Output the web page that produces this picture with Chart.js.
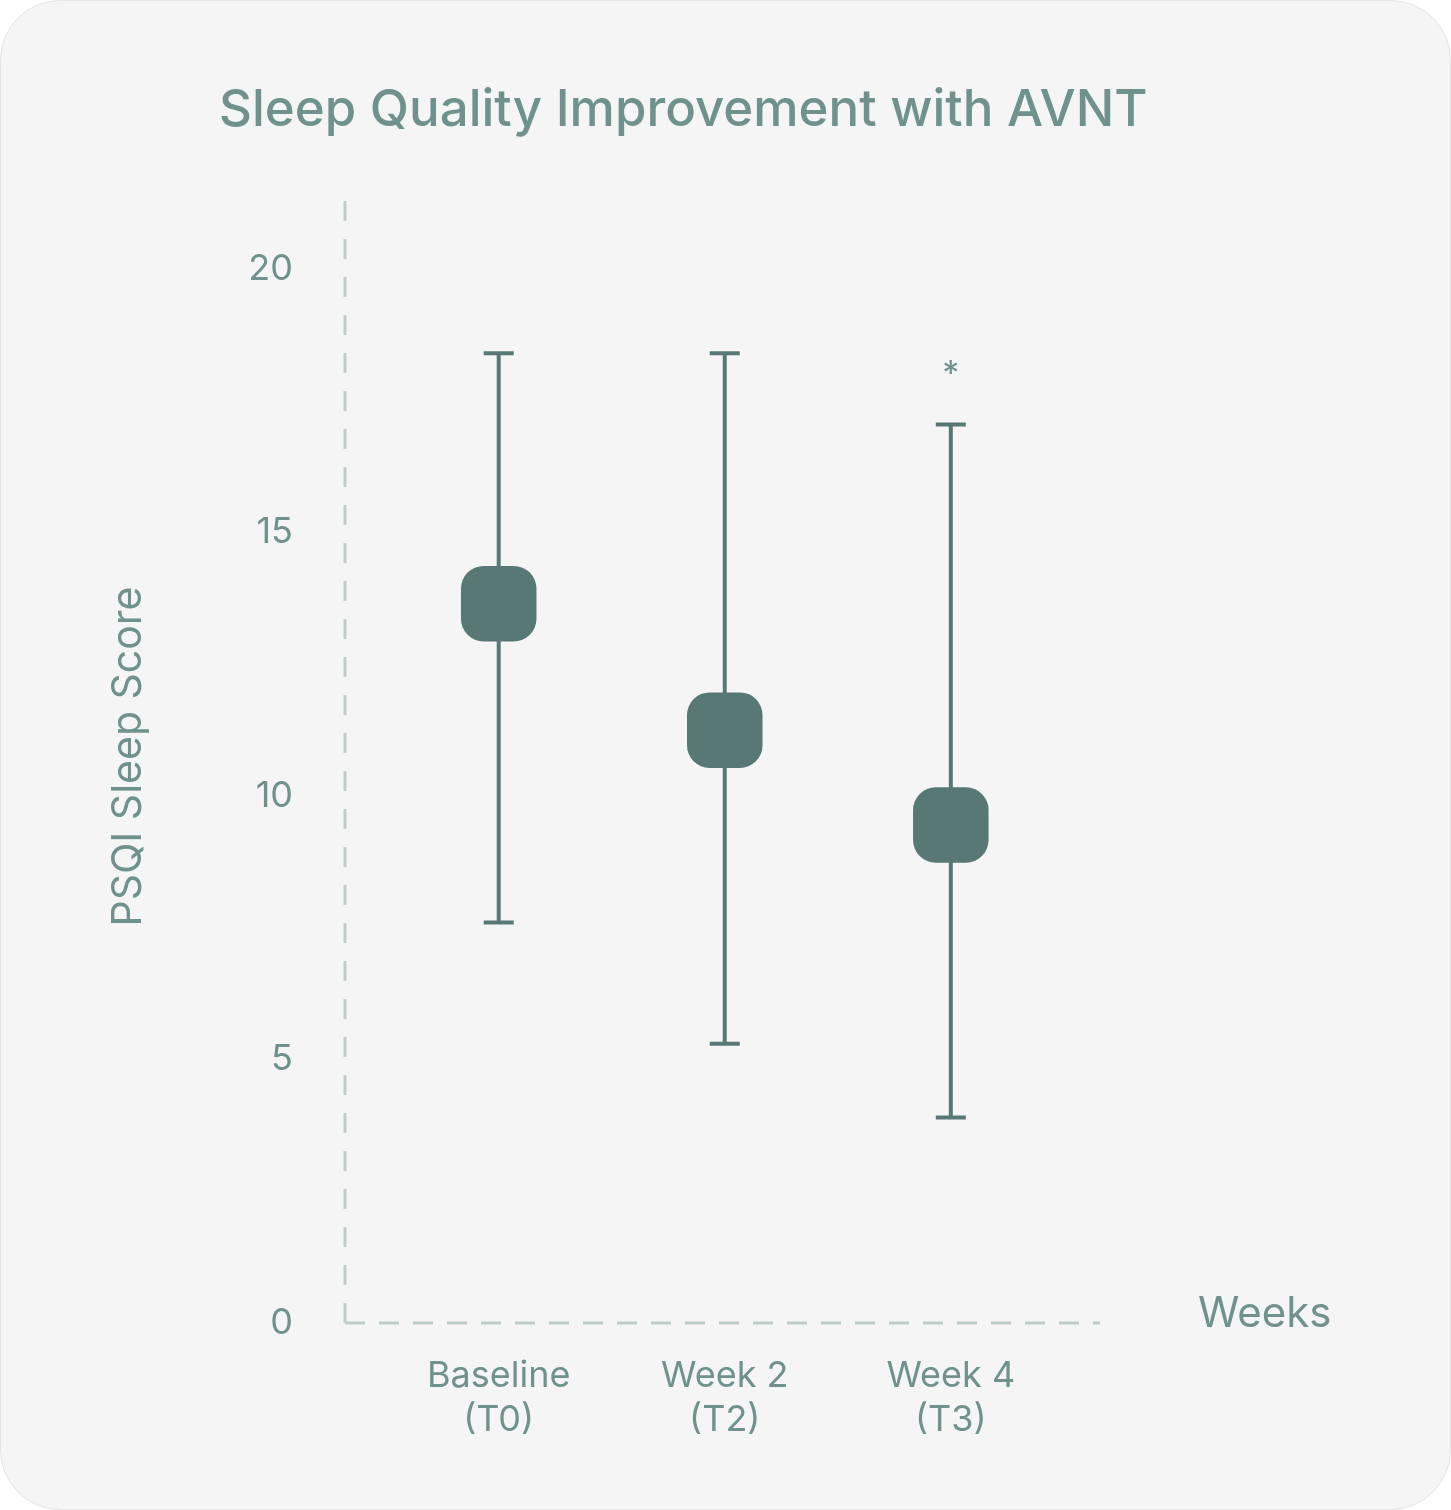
<!DOCTYPE html>
<html>
<head>
<meta charset="utf-8">
<script src="https://cdn.jsdelivr.net/npm/chart.js@4"></script>
<style>
  body { margin: 0; background: #ffffff; }
  #card {
    position: absolute; left: 0; top: 0; width: 1449px; height: 1508px;
    background: #f4f5f4; border: 1px solid #e3e6e4; border-radius: 60px;
  }
  canvas { position: absolute; left: 0; top: 0; }
</style>
</head>
<body>
<div id="card"></div>
<canvas id="chart" width="1451" height="1510"></canvas>
<script>
// data
const categories = [['Baseline', '(T0)'], ['Week 2', '(T2)'], ['Week 4', '(T3)']]
const meanScores = [13.65, 11.25, 9.45]
const upperScores = [18.4, 18.4, 17.05]
const lowerScores = [7.6, 5.3, 3.9]
const significant = [false, false, true]
const yTicks = [0, 5, 10, 15, 20]

const textColor = '#6f928d'
const markColor = '#587876'
const axisColor = '#bfcdc8'

// dashed axes, error bars, title and extra labels
const extrasPlugin = {
    id: 'extras',
    beforeDatasetsDraw(chart) {
        const ctx = chart.ctx
        const x = chart.scales.x, y = chart.scales.y
        const a = chart.chartArea
        ctx.save()
        ctx.strokeStyle = axisColor
        ctx.lineWidth = 3
        ctx.setLineDash([20, 18])
        ctx.beginPath()
        ctx.moveTo(a.left, a.bottom); ctx.lineTo(a.left, a.top)
        ctx.stroke()
        ctx.setLineDash([20, 14])
        ctx.beginPath()
        ctx.moveTo(a.left, a.bottom); ctx.lineTo(a.right, a.bottom)
        ctx.stroke()
        ctx.setLineDash([])
        ctx.strokeStyle = markColor
        ctx.lineWidth = 4
        meanScores.forEach((m, i) => {
            const px = x.getPixelForValue(i)
            const top = y.getPixelForValue(upperScores[i])
            const bot = y.getPixelForValue(lowerScores[i])
            ctx.beginPath()
            ctx.moveTo(px, top); ctx.lineTo(px, bot)
            ctx.moveTo(px - 15, top); ctx.lineTo(px + 15, top)
            ctx.moveTo(px - 15, bot); ctx.lineTo(px + 15, bot)
            ctx.stroke()
        })
        ctx.restore()
    },
    afterDraw(chart) {
        const ctx = chart.ctx
        const x = chart.scales.x, y = chart.scales.y
        ctx.save()
        ctx.fillStyle = textColor
        ctx.textBaseline = 'middle'
        ctx.font = '500 51px Inter'
        ctx.textAlign = 'left'
        ctx.fillText('Sleep Quality Improvement with AVNT', 219, 111)
        ctx.font = '42px Inter'
        ctx.fillText('Weeks', 1198, 1314)
        ctx.font = '34px Inter'
        ctx.textAlign = 'center'
        significant.forEach((s, i) => {
            if (s) ctx.fillText('*', x.getPixelForValue(i), y.getPixelForValue(upperScores[i]) - 50)
        })
        ctx.restore()
    }
}

new Chart(document.getElementById('chart'), {
    type: 'scatter',
    data: {
        datasets: [{
            data: meanScores.map((v, i) => ({ x: i, y: v })),
            pointStyle: 'rectRounded',
            pointRadius: 44,
            pointHoverRadius: 44,
            backgroundColor: markColor,
            borderColor: markColor,
            borderWidth: 0
        }]
    },
    options: {
        responsive: false,
        animation: false,
        layout: { padding: { top: 190, right: 351, bottom: 0, left: 0 } },
        plugins: { legend: { display: false }, tooltip: { enabled: false } },
        scales: {
            x: {
                type: 'linear', min: -0.68, max: 2.66,
                grid: { display: false },
                border: { display: false },
                afterFit: s => { s.height = 187 },
                afterBuildTicks: s => { s.ticks = categories.map((c, i) => ({ value: i })) },
                ticks: {
                    color: textColor, font: { family: 'Inter', size: 36 }, padding: 24,
                    maxRotation: 0,
                    callback: v => categories[v]
                }
            },
            y: {
                min: 0, max: 21.5,
                grid: { display: false },
                border: { display: false },
                afterFit: s => { s.width = 345 },
                afterBuildTicks: s => { s.ticks = yTicks.map(v => ({ value: v })) },
                ticks: { color: textColor, font: { family: 'Inter', size: 36 }, padding: 44 },
                title: {
                    display: true, text: 'PSQI Sleep Score', color: textColor,
                    font: { family: 'Inter', size: 41 }, padding: { top: 104, bottom: 0 }
                }
            }
        }
    },
    plugins: [extrasPlugin]
})
</script>
</body>
</html>
